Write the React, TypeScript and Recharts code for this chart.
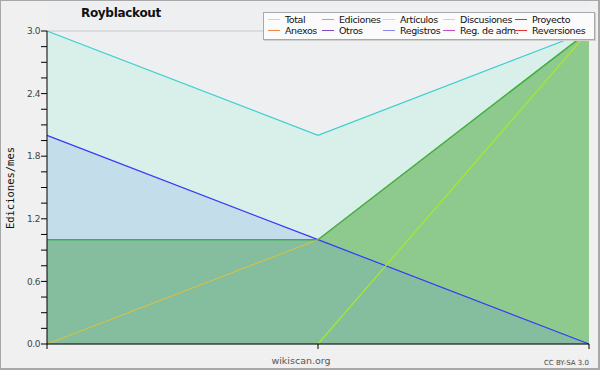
import React from "react";
import {
  ComposedChart,
  Area,
  Line,
  XAxis,
  YAxis,
  CartesianGrid,
} from "recharts";

// three monthly points, unlabeled on the axis
const months = ["m1", "m2", "m3"];
const total = [3, 2, 3];
const ediciones = [1, 1, 3];
const registros = [2, 1, 0];
const discusiones = [0, 1, 3];
const articulos: (number | null)[] = [null, 0, 3];

const majorTicks = [0, 0.6, 1.2, 1.8, 2.4, 3.0];
const minorTicks = [
  0, 0.15, 0.3, 0.45, 0.6, 0.75, 0.9, 1.05, 1.2, 1.35, 1.5, 1.65, 1.8, 1.95,
  2.1, 2.25, 2.4, 2.55, 2.7, 2.85, 3.0,
];

const legendNames = [
  "Total", "Ediciones", "Artículos", "Discusiones", "Proyecto",
  "Anexos", "Otros", "Registros", "Reg. de adm.", "Reversiones",
];
const legendColors = [
  "#a8e4e0", "#80c484", "#c4f070", "#f4d468", "#606060",
  "#f08848", "#8048c8", "#8888f0", "#c848c8", "#e03434",
];

const data = months.map((m, i) => ({
  name: m,
  total: total[i],
  ediciones: ediciones[i],
  registros: registros[i],
  discusiones: discusiones[i],
  articulos: articulos[i],
}));

const FONT = '"DejaVu Sans", sans-serif';
const colLeft = [4, 58, 119, 179, 251];

function isMajor(v: number) {
  return majorTicks.some((t) => Math.abs(t - v) < 1e-6);
}

export default function App() {
  return (
    <div
      style={{
        position: "absolute",
        left: 0,
        top: 0,
        width: 600,
        height: 370,
        boxSizing: "border-box",
        border: "1px solid #a8a8a8",
        borderRightWidth: 2,
        borderBottomWidth: 2,
        background: "#f0f0f0",
        fontFamily: FONT,
        overflow: "hidden",
      }}
    >
      {/* plot background */}
      <div
        style={{
          position: "absolute",
          left: 46,
          top: 0,
          width: 542,
          height: 343,
          background: "#eeeff1",
        }}
      />
      <div style={{ position: "absolute", left: -1, top: -1 }}>
        <ComposedChart
          width={600}
          height={370}
          data={data}
          margin={{ top: 31, right: 11, bottom: 0, left: 0 }}
        >
          <YAxis yAxisId="grid" hide domain={[0, 3]} ticks={majorTicks} />
          <CartesianGrid
            yAxisId="grid"
            vertical={false}
            stroke="#c6c8c8"
            strokeWidth={1}
          />
          <XAxis
            dataKey="name"
            type="category"
            scale="point"
            height={26}
            axisLine={{ stroke: "#000" }}
            tickLine={{ stroke: "#000" }}
            tickSize={5}
            tickFormatter={() => ""}
          />
          <YAxis
            width={47}
            domain={[0, 3]}
            ticks={minorTicks}
            interval={0}
            axisLine={{ stroke: "#000" }}
            tickLine={{ stroke: "#000" }}
            tickSize={6}
            tickMargin={1}
            tick={{ fill: "#444", fontSize: 9, fontFamily: FONT, letterSpacing: -0.4 }}
            tickFormatter={(v: number) => (isMajor(v) ? v.toFixed(1) : "")}
          />
          <Area
            type="linear"
            dataKey="total"
            stroke="#38d0cc"
            strokeWidth={1.2}
            fill="rgb(170,240,220)"
            fillOpacity={0.3}
            dot={false}
            activeDot={false}
            isAnimationActive={false}
          />
          <Area
            type="linear"
            dataKey="ediciones"
            stroke="#3cb048"
            strokeWidth={1.2}
            fill="rgb(120,190,115)"
            fillOpacity={0.77}
            dot={false}
            activeDot={false}
            isAnimationActive={false}
          />
          <Area
            type="linear"
            dataKey="registros"
            stroke="#3838f8"
            strokeWidth={1.2}
            fill="rgb(80,130,240)"
            fillOpacity={0.16}
            dot={false}
            activeDot={false}
            isAnimationActive={false}
          />
          <Line
            type="linear"
            dataKey="discusiones"
            stroke="#e4c034"
            strokeWidth={1}
            dot={false}
            activeDot={false}
            isAnimationActive={false}
          />
          {/* ediciones edge drawn again so it sits above the discusiones line */}
          <Line
            type="linear"
            dataKey="ediciones"
            stroke="#3cb048"
            strokeWidth={1.2}
            dot={false}
            activeDot={false}
            isAnimationActive={false}
          />
          <Line
            type="linear"
            dataKey="articulos"
            stroke="#a8e828"
            strokeWidth={1.2}
            dot={false}
            activeDot={false}
            connectNulls={false}
            isAnimationActive={false}
          />
        </ComposedChart>
      </div>

      {/* title */}
      <div
        style={{
          position: "absolute",
          left: 60,
          top: 5,
          width: 120,
          textAlign: "center",
          fontWeight: "bold",
          fontSize: 12,
          letterSpacing: -0.3,
          color: "#111",
        }}
      >
        Royblackout
      </div>

      {/* y axis label */}
      <div
        style={{
          position: "absolute",
          left: 9,
          top: 187,
          transform: "translate(-50%, -50%) rotate(-90deg)",
          fontFamily: '"DejaVu Sans Mono", monospace',
          fontSize: 10.5,
          color: "#111",
          whiteSpace: "nowrap",
        }}
      >
        Ediciones/mes
      </div>

      {/* legend */}
      <div
        style={{
          position: "absolute",
          left: 262,
          top: 11,
          width: 330,
          height: 26,
          background: "#fbfbfb",
          border: "1px solid #a8a8a8",
          boxShadow: "1px 1px 0 #d0d0d0",
        }}
      >
        {legendNames.map((n, i) => (
          <div
            key={n}
            style={{
              position: "absolute",
              left: colLeft[i % 5],
              top: i < 5 ? 1 : 12,
              height: 11,
              display: "flex",
              alignItems: "center",
              fontSize: 9.5,
              letterSpacing: -0.4,
              lineHeight: "11px",
              color: "#111",
              whiteSpace: "nowrap",
            }}
          >
            <span
              style={{
                display: "inline-block",
                width: 12,
                height: 1,
                background: legendColors[i],
                marginRight: 5,
              }}
            />
            {n}
          </div>
        ))}
      </div>

      {/* footer */}
      <div
        style={{
          position: "absolute",
          left: 250,
          top: 354,
          width: 100,
          textAlign: "center",
          fontSize: 9.5,
          color: "#555",
        }}
      >
        wikiscan.org
      </div>
      <div
        style={{
          position: "absolute",
          right: 9,
          top: 358,
          fontSize: 7,
          color: "#444",
        }}
      >
        CC BY-SA 3.0
      </div>
    </div>
  );
}
